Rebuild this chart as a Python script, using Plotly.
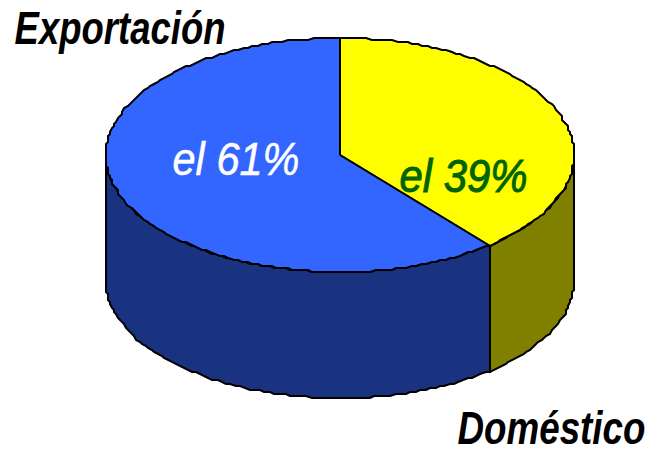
import numpy as np
import plotly.graph_objects as go

categories = ["Doméstico", "Exportación"]
values = [39, 61]
labels = ["el 39%", "el 61%"]
top_colors = ["#ffff00", "#3366ff"]
side_colors = ["#808000", "#1a3380"]
label_colors = ["#006400", "#ffffff"]

W, H = 650, 449
cx, cy, rx, ry, depth = 340, 155, 234, 117, 126

def pt(theta, drop=0):
    # slightly stepped outline, as in the low-resolution source drawing
    x = cx + rx*np.sin(theta)
    y = cy - ry*np.cos(theta) + drop
    return np.round(x/2)*2, np.round(y/2)*2

fig = go.Figure()
line = dict(color="black", width=2)
fractions = np.cumsum([0] + values) / sum(values) * 2*np.pi

def add(xs, ys, color):
    fig.add_trace(go.Scatter(x=xs, y=ys, mode="lines", fill="toself", fillcolor=color,
                             line=line, hoverinfo="skip", showlegend=False))

for i in range(len(values)):
    a = max(fractions[i], np.pi/2)
    b = min(fractions[i+1], 3*np.pi/2)
    if b <= a:
        continue
    n = int((b - a)*45)
    t = np.linspace(a, b, n)
    x1, y1 = pt(t)
    x2, y2 = pt(t[::-1], depth)
    add(np.r_[x1, x2, x1[0]], np.r_[y1, y2, y1[0]], side_colors[i])

for i in range(len(values)):
    n = int((fractions[i+1] - fractions[i])*45)
    t = np.linspace(fractions[i], fractions[i+1], n)
    x1, y1 = pt(t)
    add(np.r_[cx, x1, cx], np.r_[cy, y1, cy], top_colors[i])

fig.update_xaxes(range=[0, W], visible=False, fixedrange=True)
fig.update_yaxes(range=[H, 0], visible=False, fixedrange=True)

font = "Liberation Sans, Arial, sans-serif"
def text(x, y, s, size, color, weight, width):
    fig.add_annotation(x=x, y=y, text=s, showarrow=False, width=width,
                       font=dict(family=font, size=size, color=color, style="italic", weight=weight))

text(119.5, 27.5, categories[1], 46, "black", "bold", 214)
text(551, 427.5, categories[0], 46, "black", "bold", 191)
text(236, 159, labels[1], 46, label_colors[1], "normal", 130)
text(463, 176, labels[0], 46, label_colors[0], "normal", 131)

fig.update_layout(width=W, height=H, margin=dict(l=0, r=0, t=0, b=0),
                  paper_bgcolor="white", plot_bgcolor="white")

# The reference's condensed typeface is not installed: narrow the glyphs to the same widths.
text_widths = [211, 188, 127, 128]
text_strokes = [0, 0, 0.5, 1]
post = """
document.documentElement.style.margin='0';
document.body.style.margin='0';
document.body.style.overflow='hidden';
var widths = %s, strokes = %s;
document.querySelectorAll('.annotation-text').forEach(function(t, i){
  var b = t.getBBox(), c = b.x + b.width/2, s = widths[i]/b.width;
  var old = t.getAttribute('transform') || '';
  t.removeAttribute('clip-path');
  t.style.clipPath = 'none';
  t.setAttribute('transform', old + ' translate(' + c + ',0) scale(' + s + ',1) translate(' + (-c) + ',0)');
  if (strokes[i]) {
    t.style.stroke = t.style.fill;
    t.style.strokeWidth = strokes[i] + 'px';
  }
});
""" % (text_widths, text_strokes)
fig.write_html("out.html", post_script=post, config={"displayModeBar": False})
